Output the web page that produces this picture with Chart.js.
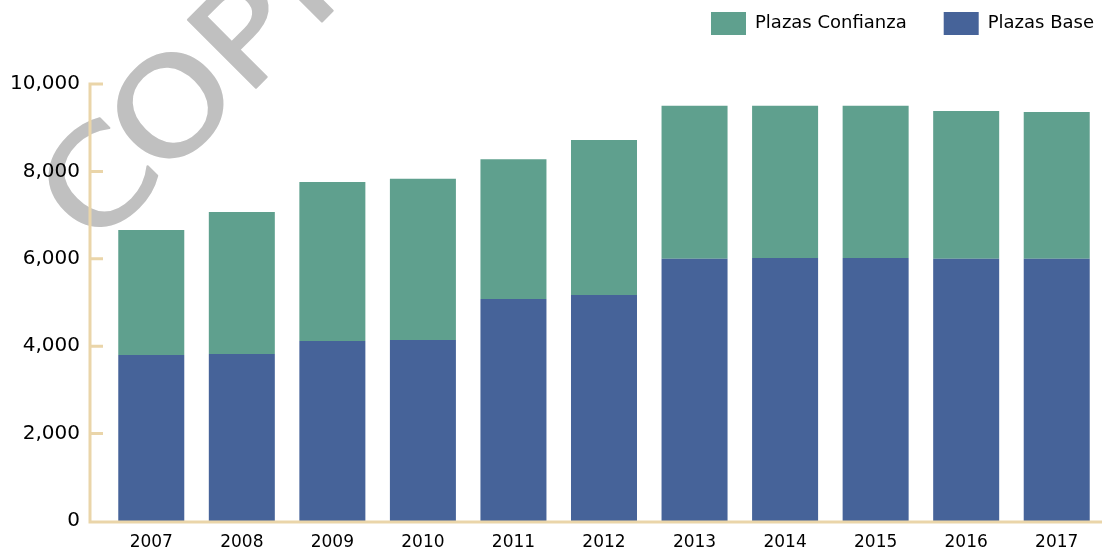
<!DOCTYPE html>
<html>
<head>
<meta charset="utf-8">
<script src="https://cdn.jsdelivr.net/npm/chart.js@4.4.1/dist/chart.umd.min.js"></script>
<style>
  html, body { margin: 0; padding: 0; background: #fff; }
  #wrap { width: 1102px; height: 552px; }
</style>
</head>
<body>
<div id="wrap"><canvas id="plazasChart"></canvas></div>
<script>
const years = ["2007", "2008", "2009", "2010", "2011", "2012", "2013", "2014", "2015", "2016", "2017"];
const plazasBase = [3800, 3820, 4120, 4140, 5080, 5170, 6000, 6020, 6020, 6000, 6000];
const plazasConfianza = [2860, 3250, 3640, 3690, 3200, 3550, 3500, 3480, 3480, 3380, 3360];
const yTicks = [0, 2000, 4000, 6000, 8000, 10000];

const BLUE = "#466399";
const GREEN = "#5fa08e";
const AXIS = "#ead5a9";

// grey "COPIA" stamp behind the chart, one letter at a time along a 45° baseline
const watermark = {
  id: "watermark",
  beforeDraw(chart) {
    const ctx = chart.ctx;
    const letters = [["C", -58], ["O", 46], ["P", 150], ["I", 220], ["A", 300]];
    const v = 243;
    ctx.save();
    ctx.fillStyle = "#c0c0c0";
    ctx.strokeStyle = "#c0c0c0";
    ctx.lineWidth = 2;
    ctx.lineJoin = "round";
    ctx.font = "132px 'DejaVu Sans'";
    ctx.textAlign = "center";
    ctx.textBaseline = "alphabetic";
    letters.forEach(([ch, u]) => {
      ctx.save();
      ctx.translate((u + v) / Math.SQRT2, (v - u) / Math.SQRT2);
      ctx.rotate(-Math.PI / 4);
      ctx.scale(1.15, 1);
      ctx.fillText(ch, 0, 0);
      ctx.strokeText(ch, 0, 0);
      ctx.restore();
    });
    ctx.restore();
  },
};

// tan L-shaped axes with inward tick marks
const axisLines = {
  id: "axisLines",
  afterDraw(chart) {
    const { ctx, chartArea, scales } = chart;
    const y = scales.y;
    const axisX = chartArea.left - 16;
    const baseY = chartArea.bottom + 1;
    ctx.save();
    ctx.strokeStyle = AXIS;
    ctx.lineWidth = 3;
    ctx.beginPath();
    ctx.moveTo(axisX, y.getPixelForValue(yTicks[yTicks.length - 1]) - 1.5);
    ctx.lineTo(axisX, baseY);
    ctx.lineTo(chart.width, baseY);
    yTicks.slice(1).forEach((t) => {
      const py = y.getPixelForValue(t);
      ctx.moveTo(axisX, py);
      ctx.lineTo(axisX + 13, py);
    });
    ctx.stroke();
    ctx.restore();
  },
};

// fixed legend band height, then slide the legend up and right
const legendPlace = {
  id: "legendPlace",
  afterInit(chart) {
    const legend = chart.legend;
    const fit = legend.fit;
    legend.fit = function () {
      fit.call(this);
      this.height = 84;
    };
  },
  afterLayout(chart) {
    const legend = chart.legend;
    legend.top -= 25;
    legend.bottom -= 25;
    legend.left += 29;
    legend.right += 29;
  },
};

Chart.defaults.color = "#000";
Chart.defaults.font.family = "'DejaVu Sans', sans-serif";

new Chart(document.getElementById("plazasChart"), {
  type: "bar",
  data: {
    labels: years,
    datasets: [
      {
        label: "Plazas Base",
        data: plazasBase,
        backgroundColor: BLUE,
        borderWidth: 0,
      },
      {
        label: "Plazas Confianza",
        data: plazasConfianza,
        backgroundColor: GREEN,
        borderWidth: 0,
      },
    ],
  },
  options: {
    responsive: true,
    maintainAspectRatio: false,
    animation: false,
    layout: { padding: 0 },
    datasets: {
      bar: { barPercentage: 0.729, categoryPercentage: 1 },
    },
    plugins: {
      tooltip: { enabled: false },
      legend: {
        position: "top",
        align: "end",
        reverse: true,
        labels: {
          boxWidth: 35,
          boxHeight: 23,
          padding: 37,
          font: { size: 18 },
          color: "#000",
        },
      },
    },
    scales: {
      x: {
        stacked: true,
        grid: { display: false, drawTicks: false },
        border: { display: false },
        ticks: { font: { size: 17 }, padding: 11, maxRotation: 0 },
        afterFit(scale) {
          scale.height = 31;
        },
      },
      y: {
        stacked: true,
        min: 0,
        max: 10000,
        grid: { display: false, drawTicks: false },
        border: { display: false },
        ticks: {
          stepSize: 2000,
          padding: 26,
          font: { size: 20 },
          callback: (v) => v.toLocaleString("en-US"),
        },
        afterFit(scale) {
          scale.width = 106;
          // keep the end labels from pushing the plot area in
          scale.paddingTop = 0;
          scale.paddingBottom = 0;
        },
      },
    },
  },
  plugins: [watermark, axisLines, legendPlace],
});
</script>
</body>
</html>
